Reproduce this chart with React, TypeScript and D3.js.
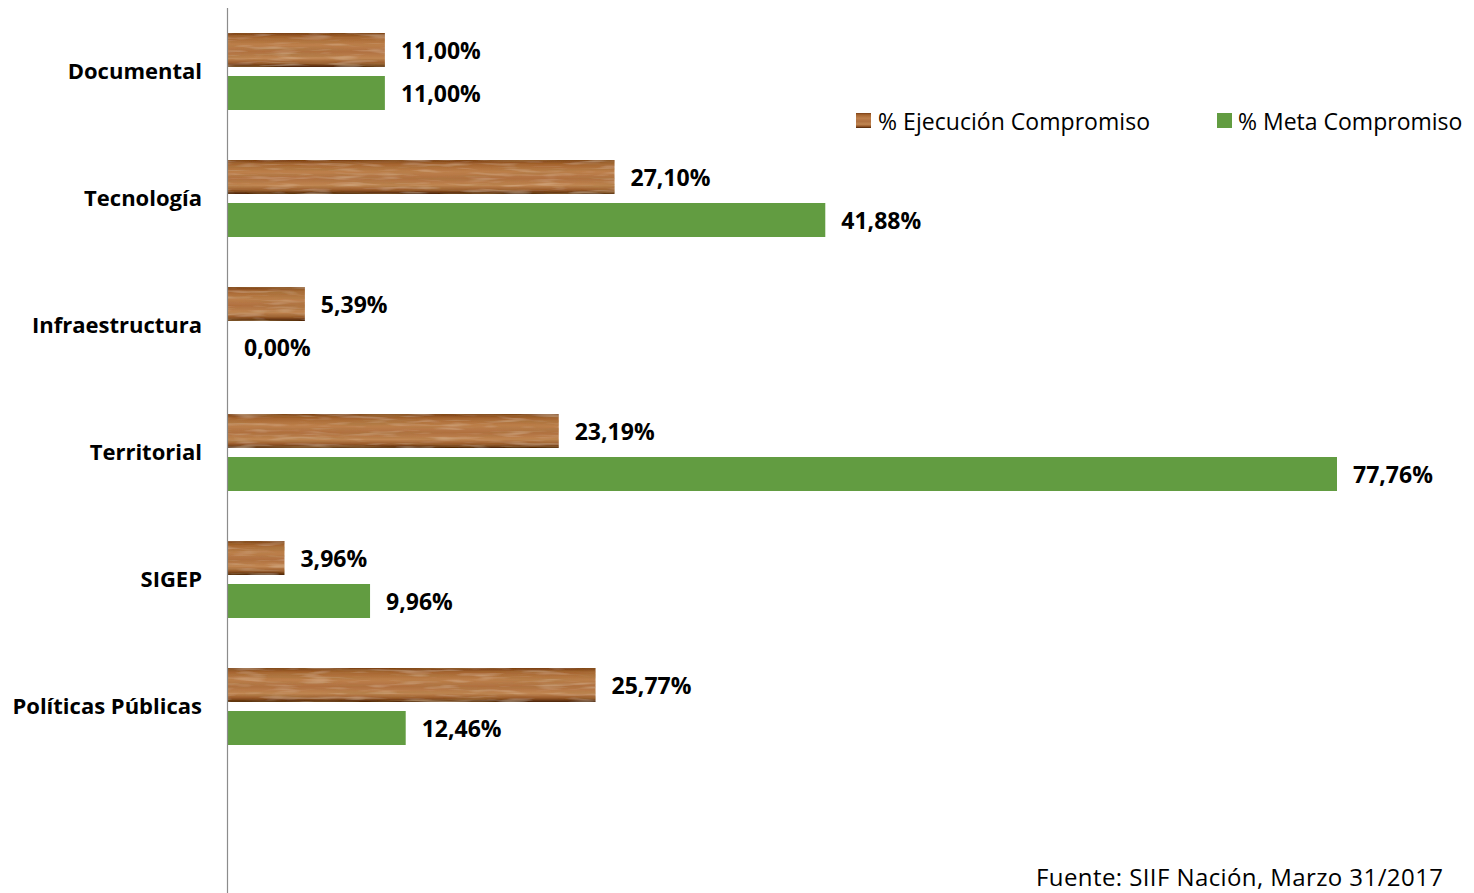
import React from "react";
import * as d3 from "d3";

const categories = ["Documental", "Tecnología", "Infraestructura", "Territorial", "SIGEP", "Políticas Públicas"];
const ejecucion = [11.0, 27.1, 5.39, 23.19, 3.96, 25.77];
const meta = [11.0, 41.88, 0.0, 77.76, 9.96, 12.46];
const seriesNames = ["% Ejecución Compromiso", "% Meta Compromiso"];
const source = "Fuente: SIIF Nación, Marzo 31/2017";

const W = 1474;
const H = 893;
const FONT = "'Open Sans', sans-serif";
const GREEN = "#629c41";

const fmt = (v: number) => v.toFixed(2).replace(".", ",") + "%";

export default function App() {
  const x = d3.scaleLinear().domain([0, 77.76]).range([228, 1337]);
  const y = d3.scaleBand<string>().domain(categories).range([7.5, 769.5]).paddingInner(0).paddingOuter(0);
  const bw = y.bandwidth();
  const barH = 34;

  return (
    <svg width={W} height={H} style={{ position: "absolute", left: 0, top: 0, background: "#fff" }}>
      <defs>
        <linearGradient id="woodGrad" x1="0" y1="0" x2="0" y2="1">
          <stop offset="0" stopColor="#7a3f16" />
          <stop offset="0.12" stopColor="#a5642f" />
          <stop offset="0.35" stopColor="#bd804c" />
          <stop offset="0.55" stopColor="#b07040" />
          <stop offset="0.75" stopColor="#c08652" />
          <stop offset="0.88" stopColor="#9a5a2a" />
          <stop offset="1" stopColor="#4a2306" />
        </linearGradient>
        <filter id="grain" x="0" y="0" width="1" height="1">
          <feTurbulence type="fractalNoise" baseFrequency="0.012 0.35" numOctaves="3" seed="4" result="noise" />
          <feColorMatrix
            in="noise"
            type="matrix"
            values="0 0 0 0 0.4  0 0 0 0 0.2  0 0 0 0 0.06  0 0 0 1.2 -0.5"
            result="streaks"
          />
          <feComposite in="streaks" in2="SourceGraphic" operator="in" result="clipped" />
          <feTurbulence type="fractalNoise" baseFrequency="0.03 0.3" numOctaves="2" seed="9" result="noise2" />
          <feColorMatrix
            in="noise2"
            type="matrix"
            values="0 0 0 0 0.82  0 0 0 0 0.6  0 0 0 0 0.38  0 0 0 0.9 -0.45"
            result="light"
          />
          <feComposite in="light" in2="SourceGraphic" operator="in" result="lightClipped" />
          <feMerge>
            <feMergeNode in="SourceGraphic" />
            <feMergeNode in="clipped" />
            <feMergeNode in="lightClipped" />
          </feMerge>
        </filter>
      </defs>

      {categories.map((c, i) => {
        const cy = (y(c) as number) + bw / 2;
        const by1 = cy - 38;
        const by2 = cy + 5;
        return (
          <g key={c}>
            <text
              x={202}
              y={cy - 1}
              textAnchor="end"
              dominantBaseline="central"
              fontFamily={FONT}
              fontWeight={700}
              fontSize={22}
              fill="#000"
            >
              {c}
            </text>
            {ejecucion[i] > 0 && (
              <rect
                x={x(0)}
                y={by1}
                width={x(ejecucion[i]) - x(0)}
                height={barH}
                fill="url(#woodGrad)"
                filter="url(#grain)"
              />
            )}
            <text
              x={x(ejecucion[i]) + 16}
              y={by1 + barH / 2}
              dominantBaseline="central"
              fontFamily={FONT}
              fontWeight={700}
              fontSize={23}
              fill="#000"
            >
              {fmt(ejecucion[i])}
            </text>
            {meta[i] > 0 && (
              <rect x={x(0)} y={by2} width={x(meta[i]) - x(0)} height={barH} fill={GREEN} />
            )}
            <text
              x={x(meta[i]) + 16}
              y={by2 + barH / 2}
              dominantBaseline="central"
              fontFamily={FONT}
              fontWeight={700}
              fontSize={23}
              fill="#000"
            >
              {fmt(meta[i])}
            </text>
          </g>
        );
      })}

      <line x1={x(0) - 0.5} x2={x(0) - 0.5} y1={8} y2={H} stroke="#8c8c8c" strokeWidth={1.2} />

      <g fontFamily={FONT} fill="#000">
        <rect x={856} y={113} width={15} height={15} fill="url(#woodGrad)" />
        <text x={878} y={120.5} fontSize={23} dominantBaseline="central" textLength={272} lengthAdjust="spacing">{seriesNames[0]}</text>
        <rect x={1217} y={113} width={15} height={15} fill={GREEN} />
        <text x={1238} y={120.5} fontSize={23} dominantBaseline="central">{seriesNames[1]}</text>
        <text x={1443} y={886} fontSize={24} textAnchor="end" textLength={407} lengthAdjust="spacing">{source}</text>
      </g>
    </svg>
  );
}
